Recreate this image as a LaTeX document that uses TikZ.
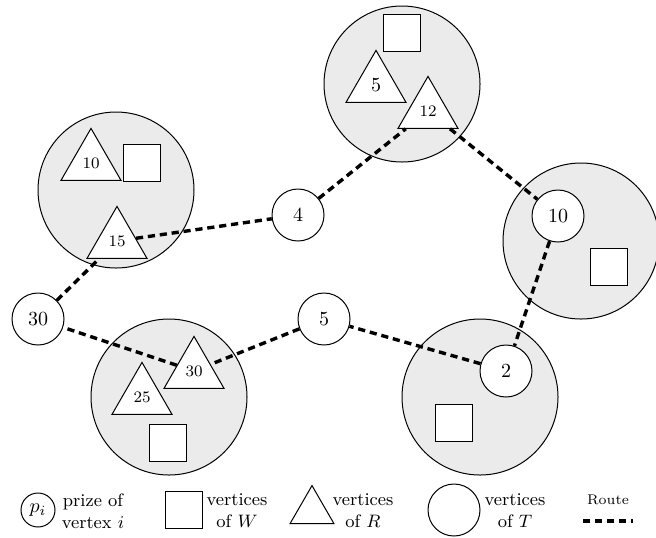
\documentclass[tikz,border=0pt]{standalone}
\usetikzlibrary{shapes.geometric}
\definecolor{clustergray}{gray}{0.92}
\begin{document}
\begin{tikzpicture}[x=0.5pt,y=-0.5pt,
    cluster/.style={draw,circle,fill=clustergray,minimum size=78pt,inner sep=0pt,line width=0.5pt},
    tvert/.style={draw,circle,fill=white,minimum size=26pt,inner sep=0pt,line width=0.5pt},
    rvert/.style={draw,regular polygon,regular polygon sides=3,fill=white,minimum size=34.6pt,inner sep=0pt,line width=0.5pt,font=\footnotesize},
    wvert/.style={draw,rectangle,fill=white,minimum size=18.5pt,inner sep=0pt,line width=0.5pt},
    route/.style={line width=1.7pt,dash pattern=on 3.6pt off 2.4pt},
    legtext/.style={align=center,inner sep=0pt,font=\small}]
                \useasboundingbox (0,0) rectangle (656,537);
                % clusters
                \node[cluster](CTL) at (116,190) {};
                \node[cluster](CT) at (402,84) {};
                \node[cluster](CR) at (581,241) {};
                \node[cluster](CBR) at (480,397) {};
                \node[cluster](CBL) at (169,397) {};
                % vertices of W
                \node[wvert](W1) at (142,163) {};
                \node[wvert](W2) at (402,33) {};
                \node[wvert](W3) at (609,267) {};
                \node[wvert](W4) at (454,423) {};
                \node[wvert](W5) at (168,443) {};
                % vertices of R
                \node[rvert](R10) at (91,163) {10};
                \node[rvert](R15) at (117,241) {15};
                \node[rvert,font=\normalsize](R5) at (376,85) {5};
                \node[rvert](R12) at (428,111) {12};
                \node[rvert](R30) at (194,371) {30};
                \node[rvert](R25) at (142,397) {25};
                % vertices of T
                \node[tvert](T30) at (38,319) {30};
                \node[tvert](T4) at (298,215) {4};
                \node[tvert](T5) at (324,319) {5};
                \node[tvert](T10) at (558,216) {10};
                \node[tvert](T2) at (506,371) {2};
                % route
                \draw[route] (T30) -- (R15);
                \draw[route] (R15) -- (T4);
                \draw[route] (T4) -- (R12);
                \draw[route] (R12) -- (T10);
                \draw[route] (T10) -- (T2);
                \draw[route] (T2) -- (T5);
                \draw[route] (T5) -- (R30);
                \draw[route] (R30) -- (T30);
                % legend
                \node[draw,circle,minimum size=17pt,inner sep=0pt,line width=0.5pt](LP) at (38,510) {$p_i$};
                \node[legtext](LPT) at (93,511) {prize of\\vertex $i$};
                \node[wvert](LW) at (184,510) {};
                \node[legtext](LWT) at (237,511) {vertices\\of $W$};
                \node[draw,regular polygon,regular polygon sides=3,minimum size=25.4pt,inner sep=0pt,line width=0.5pt](LR) at (312,511) {};
                \node[legtext](LRT) at (363,511) {vertices\\of $R$};
                \node[tvert](LT) at (454,510) {};
                \node[legtext](LTT) at (515,511) {vertices\\of $T$};
                \node[inner sep=0pt,font=\scriptsize](LRO) at (608,500) {Route};
                \coordinate (LA) at (583,521);
                \coordinate (LB) at (633,521);
                \draw[route] (LA) -- (LB);
            \end{tikzpicture}
\end{document}
